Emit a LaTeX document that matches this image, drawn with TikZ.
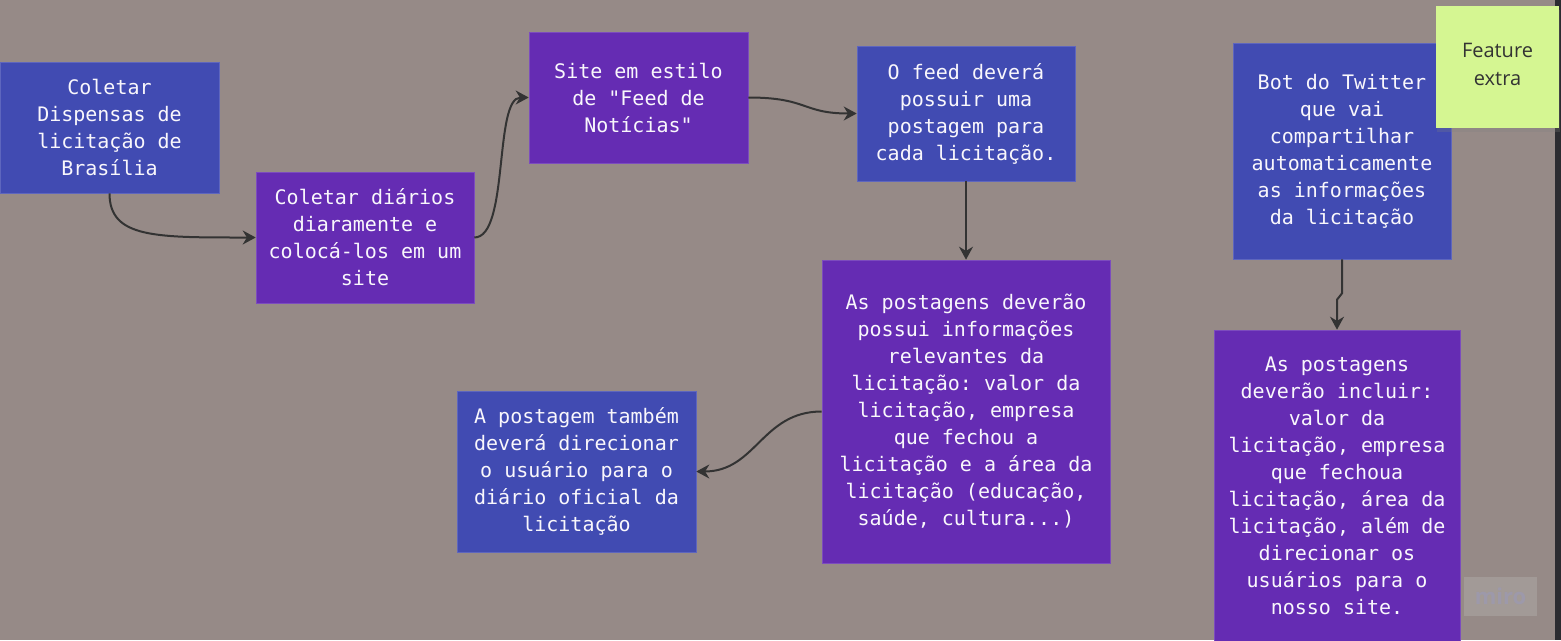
\documentclass[tikz,border=0pt]{standalone}
\usepackage{fontspec}
\setmonofont{DejaVu Sans Mono}
\setsansfont{Open Sans}
\usepackage{tikz}
\usetikzlibrary{arrows.meta}
\usetikzlibrary{shadows}
\definecolor{board}{HTML}{968A87}
\definecolor{cardblue}{HTML}{414BB2}
\definecolor{cardpurple}{HTML}{652CB3}
\definecolor{sticky}{HTML}{D5F692}
\definecolor{ink}{HTML}{333333}
\definecolor{scrollbar}{HTML}{2C2C31}
\definecolor{markgray}{HTML}{A29A97}
\definecolor{markink}{HTML}{9D99AA}
\tikzset{card/.style={rectangle,text=white!96!cardpurple,align=center,inner sep=0pt,
                      font=\ttfamily\fontsize{20}{27}\selectfont}}
\tikzset{bluecard/.style={card,fill=cardblue,draw=cardblue!85!white,line width=0.6pt}}
\tikzset{purplecard/.style={card,fill=cardpurple,draw=cardpurple!85!white,line width=0.6pt}}

\begin{document}
\begin{tikzpicture}[x=1pt,y=-1pt,line width=2pt,>={Stealth[length=13pt,width=14pt]}]
    \tikzstyle{note}=[rectangle,fill=sticky,text=ink,align=center,
                      font=\sffamily\fontsize{20}{28}\selectfont,
                      drop shadow={shadow xshift=1pt,shadow yshift=-4pt,opacity=.25}]
    \path[use as bounding box,fill=board] (0,0) rectangle (1561,640);
    \fill[scrollbar] (1555,0) rectangle (1561,640);

    % Cards
    \node[bluecard,minimum width=219pt,minimum height=131pt] (coletar) at (109.5,127.5)
        {Coletar\\Dispensas de\\licitação de\\Brasília};
    \node[purplecard,minimum width=218pt,minimum height=131pt] (diarios) at (365,237.5)
        {Coletar diários\\diaramente e\\colocá-los em um\\site};
    \node[purplecard,minimum width=219pt,minimum height=131pt] (site) at (638.5,97.5)
        {Site em estilo\\de "Feed de\\Notícias"};
    \node[bluecard,minimum width=218pt,minimum height=135pt] (feed) at (966,113.5)
        {O feed deverá\\possuir uma\\postagem para\\cada licitação.};
    \node[purplecard,minimum width=288pt,minimum height=303pt] (postagens) at (966,411.5)
        {As postagens deverão\\possui informações\\relevantes da\\licitação: valor da\\licitação, empresa\\que fechou a\\licitação e a área da\\licitação (educação,\\saúde, cultura...)};
    \node[bluecard,minimum width=239pt,minimum height=161pt] (direcionar) at (576.5,471.5)
        {A postagem também\\deverá direcionar\\o usuário para o\\diário oficial da\\licitação};
    \node[bluecard,minimum width=218pt,minimum height=216pt] (bot) at (1342,151)
        {Bot do Twitter\\que vai\\compartilhar\\automaticamente\\as informações\\da licitação};
    \node[purplecard,minimum width=246pt,minimum height=311pt] (incluir) at (1337,485.5)
        {As postagens\\deverão incluir:\\valor da\\licitação, empresa\\que fechoua\\licitação, área da\\licitação, além de\\direcionar os\\usuários para o\\nosso site.};

    % Sticky note and watermark
    \node[note,minimum width=123pt,minimum height=122pt] (extra) at (1497.5,67) {};
    \node[text=ink,align=center,font=\sffamily\fontsize{20}{28}\selectfont] (extratext) at (1497.5,64.5) {Feature\\extra};
    \node[fill=markgray,text=markink,minimum width=73pt,minimum height=39pt,
          font=\sffamily\bfseries\fontsize{22}{22}\selectfont] (miro) at (1500.5,596.5) {miro};

    % Connectors
    \draw[->,ink] (coletar.south) .. controls +(0,45) and +(-100,0) .. (diarios.west);
    \draw[->,ink] (diarios.east) .. controls +(35,0) and +(-35,0) .. (site.west);
    \draw[->,ink] (site.east) .. controls +(60,0) and +(-55,0) .. (feed.west);
    \draw[->,ink] (feed.south) -- (postagens.north);
    \draw[->,ink] (postagens.west) .. controls +(-60,0) and +(60,0) .. (direcionar.east);
    \draw[->,ink] (bot.south) -- ++(0,34) -- ([yshift=30pt]incluir.north) -- (incluir.north);
\end{tikzpicture}
\end{document}
